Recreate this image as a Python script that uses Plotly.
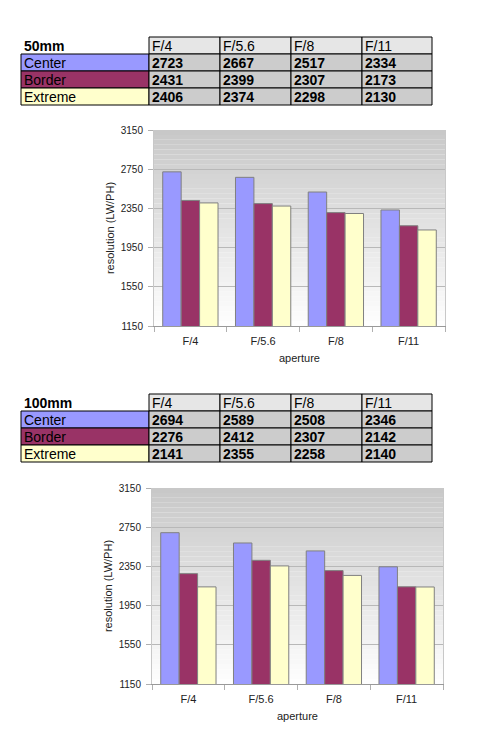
import plotly.graph_objects as go

apertures = ["F/4", "F/5.6", "F/8", "F/11"]
series = ["Center", "Border", "Extreme"]
series_colors = ["#9999ff", "#993366", "#ffffcc"]

res_50mm = {
    "Center": [2723, 2667, 2517, 2334],
    "Border": [2431, 2399, 2307, 2173],
    "Extreme": [2406, 2374, 2298, 2130],
}
res_100mm = {
    "Center": [2694, 2589, 2508, 2346],
    "Border": [2276, 2412, 2307, 2142],
    "Extreme": [2141, 2355, 2258, 2140],
}

# page body has an 8px margin, so the figure is drawn that much smaller
OFF = 8
W, H = 483 - OFF, 737 - OFF
FONT = "Liberation Sans, Arial, sans-serif"


def fx(p):
    return (p - OFF) / W


def fy(p):
    return 1 - (p - OFF) / H


fig = go.Figure()

col_edges = [21, 149, 220, 291, 362, 432]


def add_table(title, data, row_edges):
    header = ["<b>%s</b>" % title] + apertures
    rows = [header] + [[s] + ["<b>%d</b>" % v for v in data[s]] for s in series]
    for r, row in enumerate(rows):
        y0, y1 = row_edges[r], row_edges[r + 1]
        for c, txt in enumerate(row):
            x0, x1 = col_edges[c], col_edges[c + 1]
            if r == 0:
                fill = None if c == 0 else "#e6e6e6"
            else:
                fill = series_colors[r - 1] if c == 0 else "#cccccc"
            if fill:
                fig.add_shape(type="rect", xref="paper", yref="paper",
                              x0=fx(x0), x1=fx(x1), y0=fy(y1), y1=fy(y0),
                              fillcolor=fill, line=dict(color="black", width=1))
            fig.add_annotation(x=fx(x0 + 1), y=fy((y0 + y1) / 2 + 0.5), xref="paper", yref="paper",
                               text=txt, showarrow=False, xanchor="left", yanchor="middle",
                               font=dict(family=FONT, size=14, color="black"))


def add_chart(data, n, xdom, ydom):
    xa = "x" if n == 1 else "x%d" % n
    ya = "y" if n == 1 else "y%d" % n
    for s, c in zip(series, series_colors):
        fig.add_trace(go.Bar(x=apertures, y=data[s], name=s, xaxis=xa, yaxis=ya,
                             marker=dict(color=c, line=dict(color="#808080", width=1)),
                             showlegend=False))
    key = "" if n == 1 else str(n)
    fig.update_layout(**{
        "xaxis" + key: dict(domain=xdom, anchor=ya, showline=True, linecolor="#999999",
                            ticks="outside", tickson="boundaries", ticklen=5,
                            tickcolor="#b0b0b0", showgrid=False, automargin=False,
                            ticklabelstandoff=5,
                            tickfont=dict(family=FONT, size=11, color="#222"),
                            title=dict(text="aperture", standoff=8,
                                       font=dict(family=FONT, size=11, color="#222"))),
        "yaxis" + key: dict(domain=ydom, anchor=xa, range=[1150, 3150], dtick=400,
                            tick0=1150, showline=True, linecolor="#c8c8c8", mirror=True,
                            ticks="outside", ticklen=5, tickcolor="#b0b0b0",
                            gridcolor="#b8b8b8", zeroline=False, automargin=False,
                            ticklabelstandoff=3,
                            tickfont=dict(family=FONT, size=10, color="#222"),
                            title=dict(text="resolution (LW/PH)", standoff=3,
                                       font=dict(family=FONT, size=11, color="#222"))),
    })
    # grey-to-white gradient behind the plot area
    steps = 40
    for k in range(steps):
        t = (k + 0.5) / steps
        g = int(255 - 55 * t)
        fig.add_shape(type="rect", xref=xa + " domain", yref=ya + " domain",
                      x0=0, x1=1, y0=k / steps, y1=(k + 1) / steps,
                      fillcolor="rgb(%d,%d,%d)" % (g, g, g), line=dict(width=0),
                      layer="below")


add_table("50mm", res_50mm, [37, 54, 71, 88, 105])
add_chart(res_50mm, 1, [fx(154), fx(445)], [fy(326), fy(130)])
add_table("100mm", res_100mm, [394, 411, 428, 445, 462])
add_chart(res_100mm, 2, [fx(152), fx(443)], [fy(684), fy(488)])

fig.update_layout(width=W, height=H, margin=dict(l=0, r=0, t=0, b=0),
                  paper_bgcolor="white", plot_bgcolor="white",
                  barmode="group", bargap=0.24, bargroupgap=0,
                  font=dict(family=FONT))

fig.write_html("out.html")
